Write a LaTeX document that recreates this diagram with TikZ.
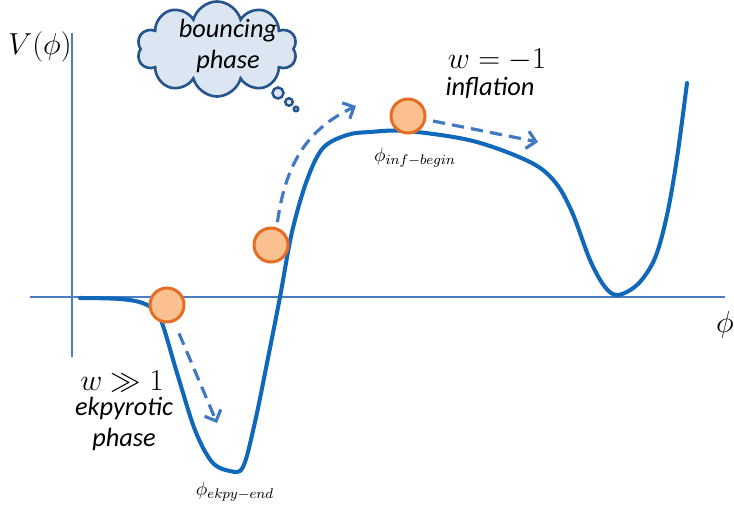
\documentclass[tikz,border=0pt]{standalone}
\usepackage{fontspec}
\setsansfont{Carlito}
\usetikzlibrary{arrows.meta,shapes.symbols}
\definecolor{potblue}{RGB}{15,104,186}
\definecolor{axisblue}{RGB}{74,126,190}
\definecolor{flowblue}{RGB}{64,120,196}
\definecolor{ballfill}{RGB}{250,192,144}
\definecolor{balldraw}{RGB}{229,108,36}
\definecolor{cloudfill}{RGB}{220,230,242}
\definecolor{clouddraw}{RGB}{38,84,140}
\begin{document}
\begin{tikzpicture}[x=0.02cm,y=-0.02cm,>={Straight Barb[length=5pt,width=10pt]},
    ball/.style={circle,draw=balldraw,fill=ballfill,line width=1.7pt,minimum size=0.68cm,inner sep=0pt},
    flow/.style={->,flowblue,line width=1.8pt,dash pattern=on 7pt off 4pt},
    phasetxt/.style={font=\fontsize{15}{18}\selectfont\sffamily\itshape,align=center,inner sep=0pt},
    eqtxt/.style={font=\fontsize{16}{19}\selectfont,inner sep=0pt},
    fieldtxt/.style={font=\fontsize{11}{13}\selectfont,inner sep=1pt},
    bubble/.style={circle,draw=clouddraw,fill=cloudfill,line width=1.4pt,inner sep=0pt}]
  \useasboundingbox (0,0) rectangle (734,508);

  % axes
  \coordinate (ytop) at (72,33);
  \coordinate (ybot) at (72,357);
  \coordinate (xleft) at (30,297);
  \coordinate (xright) at (725,297);
  \draw[axisblue,line width=0.9pt] (ybot) -- (ytop);
  \draw[axisblue,line width=0.9pt] (xleft) -- (xright);
  \node[eqtxt] (vlbl) at (40,47) {$V(\phi)$};
  \node[eqtxt] (philbl) at (725,325) {$\phi$};

  % potential
  \draw[potblue,line width=2.3pt,line cap=round,line join=round]
    plot[smooth,tension=0.55] coordinates {(80,298) (120,299) (145,304) (160,318)
      (177,373) (195,430) (212,462) (230,471) (243,467) (255,422) (268,358) (280,297)
      (292,232) (307,180) (323,148) (347,135) (370,132) (407,131) (473,141) (530,162)
      (555,182) (572,212) (590,260) (605,287) (618,295) (638,284) (655,258) (667,215)
      (677,158) (687,83)};

  % balls
  \node[ball] (ball1) at (167,305) {};
  \node[ball] (ball2) at (271,245) {};
  \node[ball] (ball3) at (408,116) {};

  % flow of the field
  \coordinate (ekpyend) at (217,423);
  \coordinate (bounceend) at (356,106);
  \coordinate (infend) at (538,142);
  \draw[flow,shorten <=7pt] (ball1) -- (ekpyend);
  \draw[flow,shorten <=3pt] (ball2.72) .. controls (286,160) and (310,128) .. (bounceend);
  \draw[flow,shorten <=4pt] (ball3) -- (infend);

  % thought cloud
  \node[cloud,cloud puffs=10,aspect=1.7,draw=clouddraw,fill=cloudfill,line width=1.5pt,
    minimum width=3.2cm,minimum height=1.9cm] (cloud) at (217,49) {};
  \node[phasetxt] (bouncetxt) at (228,46) {bouncing\\phase};
  \node[bubble,minimum size=0.22cm] (bub1) at (278,93) {};
  \node[bubble,minimum size=0.15cm] (bub2) at (289,102) {};
  \node[bubble,minimum size=0.09cm] (bub3) at (296,109) {};

  % labels
  \node[eqtxt] (wekpy) at (122,381) {$w\gg 1$};
  \node[phasetxt] (ekpytxt) at (124,424) {ekpyrotic\\phase};
  \node[fieldtxt] (ekpylbl) at (235,492) {$\phi_{ekpy-end}$};
  \node[eqtxt] (winf) at (497,60) {$w=-1$};
  \node[phasetxt] (inftxt) at (490,88) {inflation};
  \node[fieldtxt] (inflbl) at (415,158) {$\phi_{inf-begin}$};
\end{tikzpicture}
\end{document}
